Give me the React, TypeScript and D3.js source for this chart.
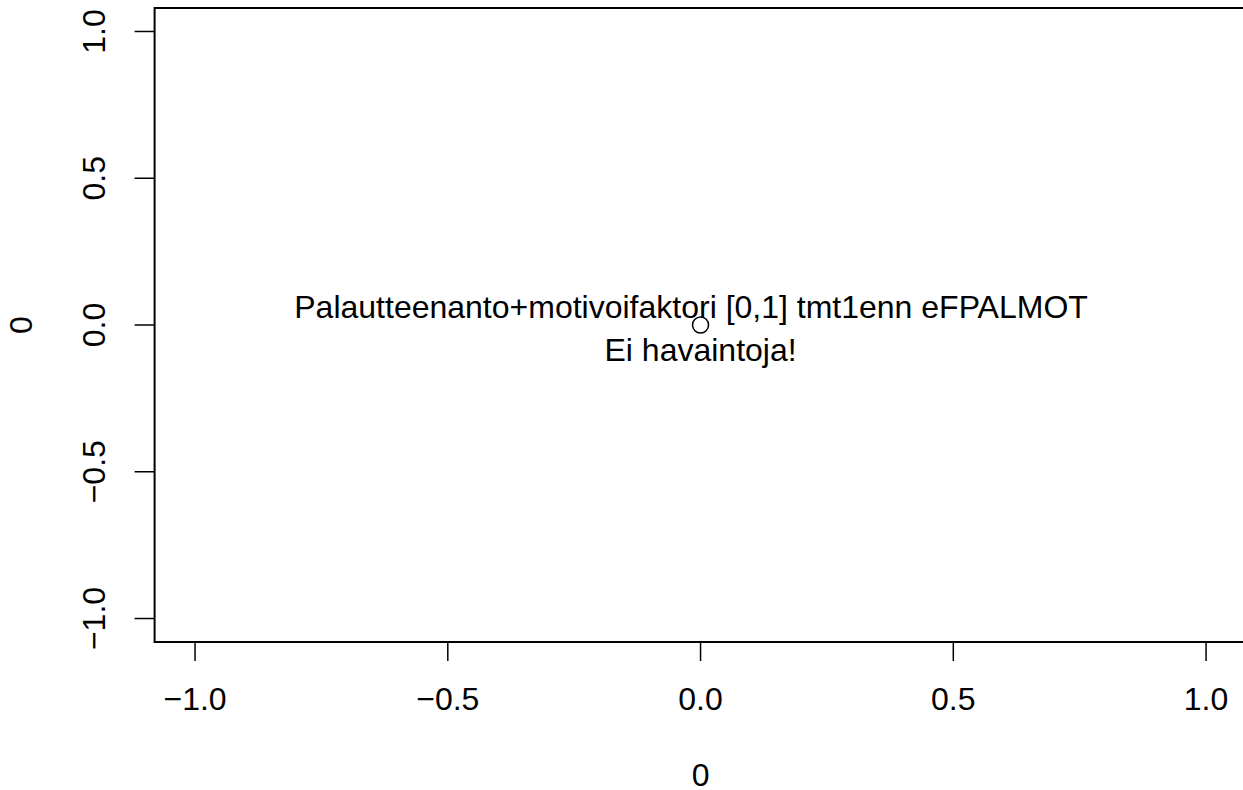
import * as d3 from "d3";

const xTicks = [-1.0, -0.5, 0.0, 0.5, 1.0];
const yTicks = [-1.0, -0.5, 0.0, 0.5, 1.0];
const points = [{ x: 0, y: 0 }];
const messageLines = ["Palautteenanto+motivoifaktori [0,1] tmt1enn eFPALMOT", "Ei havaintoja!"];
const xTitle = "0";
const yTitle = "0";

const width = 1243;
const height = 790;
const font = "'Liberation Sans', Arial, Helvetica, sans-serif";
const fontSize = 32;

const fmt = (v: number) => d3.format(".1f")(v).replace("-", "\u2212");

export default function App() {
  const x = d3.scaleLinear().domain([-1.08, 1.08]).range([154.6, 1246.5]);
  const y = d3.scaleLinear().domain([-1.08, 1.08]).range([642, 8]);
  const [x0, x1] = x.range();
  const [yb, yt] = y.range();

  return (
    <svg
      width={width}
      height={height}
      style={{ position: "absolute", left: 0, top: 0, background: "#fff" }}
      fontFamily={font}
      fontSize={fontSize}
    >
      <rect x={x0} y={yt} width={x1 - x0} height={yb - yt} fill="none" stroke="#000" strokeWidth={2} />

      {xTicks.map((t) => (
        <g key={`x${t}`}>
          <line x1={x(t)} x2={x(t)} y1={yb} y2={yb + 19} stroke="#000" strokeWidth={1.5} />
          <text x={x(t)} y={710} textAnchor="middle">
            {fmt(t)}
          </text>
        </g>
      ))}

      {yTicks.map((t) => (
        <g key={`y${t}`}>
          <line x1={x0 - 20} x2={x0} y1={y(t)} y2={y(t)} stroke="#000" strokeWidth={1.5} />
          <text transform={`translate(105,${y(t)}) rotate(-90)`} textAnchor="middle">
            {fmt(t)}
          </text>
        </g>
      ))}

      <text x={x(0)} y={786} textAnchor="middle">
        {xTitle}
      </text>
      <text transform={`translate(32,${y(0)}) rotate(-90)`} textAnchor="middle">
        {yTitle}
      </text>

      {points.map((p, i) => (
        <circle key={i} cx={x(p.x)} cy={y(p.y)} r={8} fill="none" stroke="#000" strokeWidth={1.5} />
      ))}

      {messageLines.map((line, i) => (
        <text key={i} x={x(0) - (i === 0 ? 9.5 : 0)} y={318 + i * 43} textAnchor="middle">
          {line}
        </text>
      ))}
    </svg>
  );
}
